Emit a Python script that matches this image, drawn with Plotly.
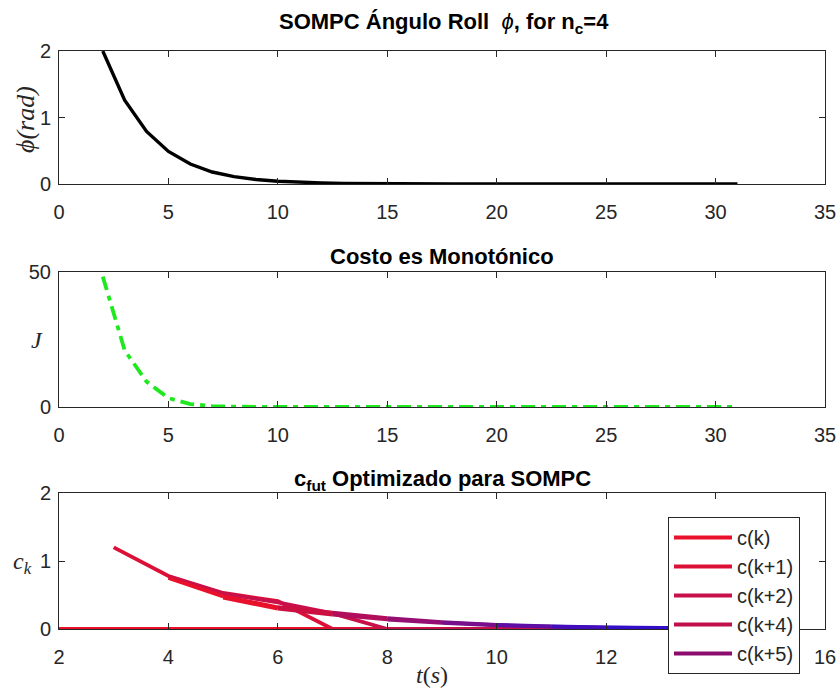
import plotly.graph_objects as go

# ---------------- data ----------------
t_phi = list(range(2, 32))
phi = [2.0, 1.26, 0.79, 0.49, 0.30, 0.18, 0.11, 0.068, 0.042, 0.026, 0.016, 0.010,
       0.006, 0.004, 0.0025, 0.0015, 0.001, 0.0006, 0.0004, 0.0002, 0.0001, 0.0,
       0.0, 0.0, 0.0, 0.0, 0.0, 0.0, 0.0, 0.0]

t_J = list(range(2, 32))
J = [48.3, 21.0, 9.4, 3.3, 1.1, 0.35, 0.1, 0.03, 0.01, 0.0, 0.0, 0.0, 0.0, 0.0, 0.0,
     0.0, 0.0, 0.0, 0.0, 0.0, 0.0, 0.0, 0.0, 0.0, 0.0, 0.0, 0.0, 0.0, 0.0, 0.0]

t_c0 = list(range(2, 15))
c_k = [0.0] * 13
t_c1 = list(range(3, 15))
c_k1 = [1.2, 0.78, 0.53, 0.41, 0.0, 0.0, 0.0, 0.0, 0.0, 0.0, 0.0, 0.0]
t_c2 = list(range(4, 15))
c_k2 = [0.77, 0.52, 0.39, 0.23, 0.0, 0.0, 0.0, 0.0, 0.0, 0.0, 0.0]
t_c4 = list(range(4, 15))
c_k4 = [0.75, 0.48, 0.32, 0.24, 0.16, 0.10, 0.06, 0.04, 0.025, 0.015, 0.01]
t_c5 = list(range(5, 15))
c_k5 = [0.46, 0.30, 0.21, 0.14, 0.09, 0.055, 0.035, 0.02, 0.012, 0.008]

legend_names = ["c(k)", "c(k+1)", "c(k+2)", "c(k+4)", "c(k+5)"]
legend_colors = ["#e8102a", "#dc1036", "#c8104a", "#c0104c", "#8c0c6e"]

# ---------------- styling ----------------
W, H = 840, 690
AX = "#262626"
FONT = "Liberation Sans, Arial, Helvetica, sans-serif"
SERIF = "Liberation Serif, DejaVu Serif, serif"

def px_x(p):
    return p / W

def px_y(p):
    return 1 - p / H

fig = go.Figure()

fig.add_trace(go.Scatter(x=t_phi, y=phi, mode="lines", xaxis="x", yaxis="y",
                         line=dict(color="black", width=3.4), showlegend=False))
fig.add_trace(go.Scatter(x=t_J, y=J, mode="lines", xaxis="x2", yaxis="y2",
                         line=dict(color="#1ee81e", width=3.8, dash="14px,6px,5px,6px"),
                         showlegend=False))

RED = (232, 16, 42)
BLUE = (52, 14, 200)

def grad(tm, t0=5.5, t1=12.0):
    f = min(max((tm - t0) / (t1 - t0), 0.0), 1.0)
    r, g, b = (round(RED[i] + (BLUE[i] - RED[i]) * f) for i in range(3))
    return f"rgb({r},{g},{b})"

series = [(t_c0, c_k, False), (t_c1, c_k1, False), (t_c2, c_k2, False),
          (t_c4, c_k4, True), (t_c5, c_k5, True)]

for i, (tt, yy, g) in enumerate(series):
    grp = legend_names[i]
    if not g:
        fig.add_trace(go.Scatter(x=tt, y=yy, mode="lines", xaxis="x3", yaxis="y3",
                                 line=dict(color=legend_colors[i], width=3.8),
                                 legendgroup=grp, showlegend=False))
    else:
        for k in range(len(tt) - 1):
            fig.add_trace(go.Scatter(x=tt[k:k + 2], y=yy[k:k + 2], mode="lines",
                                     xaxis="x3", yaxis="y3",
                                     line=dict(color=grad((tt[k] + tt[k + 1]) / 2), width=3.8),
                                     legendgroup=grp, showlegend=False))
    fig.add_trace(go.Scatter(x=[None], y=[None], mode="lines", xaxis="x3", yaxis="y3",
                             line=dict(color=legend_colors[i], width=4),
                             name=grp, legendgroup=grp, showlegend=True))

xdom = [px_x(59), px_x(825)]

def common():
    return dict(showgrid=False, zeroline=False, showline=True, linecolor=AX, linewidth=1,
                mirror="ticks", ticks="inside", ticklen=6, tickcolor=AX, tick0=0,
                tickfont=dict(family=FONT, size=20, color=AX), automargin=False)

def xax(rng, dtick, anchor):
    d = common()
    d.update(domain=xdom, range=rng, dtick=dtick, anchor=anchor, ticklabelstandoff=10)
    return d

def yax(dom, rng, dtick, anchor):
    d = common()
    d.update(domain=dom, range=rng, dtick=dtick, anchor=anchor, ticklabelstandoff=3)
    return d

fig.update_layout(
    width=W, height=H, template="none",
    margin=dict(l=0, r=0, t=0, b=0),
    paper_bgcolor="white", plot_bgcolor="white",
    xaxis=xax([0, 35], 5, "y"),
    yaxis=yax([px_y(184), px_y(51)], [0, 2], 1, "x"),
    xaxis2=xax([0, 35], 5, "y2"),
    yaxis2=yax([px_y(407), px_y(272)], [0, 50], 50, "x2"),
    xaxis3=xax([2, 16], 2, "y3"),
    yaxis3=yax([px_y(629), px_y(493)], [0, 2], 1, "x3"),
    legend=dict(x=px_x(668), y=px_y(517), xanchor="left", yanchor="top",
                bgcolor="white", bordercolor=AX, borderwidth=1,
                font=dict(family=FONT, size=20, color=AX),
                traceorder="grouped", tracegroupgap=0, itemwidth=58),
    showlegend=True,
)

ann = [
    dict(x=px_x(444), y=px_y(23), text="<b>SOMPC Ángulo Roll</b>  <i>ϕ</i><b>, for n<sub>c</sub>=4</b>",
         font=dict(family=FONT, size=22, color="black")),
    dict(x=px_x(442), y=px_y(257), text="<b>Costo es Monotónico</b>",
         font=dict(family=FONT, size=22, color="black")),
    dict(x=px_x(442), y=px_y(480), text="<b>c<sub>fut</sub> Optimizado para SOMPC</b>",
         font=dict(family=FONT, size=22, color="black")),
    dict(x=px_x(25), y=px_y(120), text="<i>ϕ(rad)</i>", textangle=-90,
         font=dict(family=SERIF, size=26, color=AX)),
    dict(x=px_x(37), y=px_y(340), text="<i>J</i>",
         font=dict(family=SERIF, size=24, color=AX)),
    dict(x=px_x(22), y=px_y(563), text="<i>c<sub>k</sub></i>",
         font=dict(family=SERIF, size=24, color=AX)),
    dict(x=px_x(432), y=px_y(675), text="<i>t</i>(<i>s</i>)",
         font=dict(family=SERIF, size=24, color=AX)),
]
for a in ann:
    a.update(xref="paper", yref="paper", showarrow=False, xanchor="center", yanchor="middle")
fig.update_layout(annotations=ann)

fig.write_html("out.html", config={"displayModeBar": False},
               post_script="document.body.style.margin='0';")
